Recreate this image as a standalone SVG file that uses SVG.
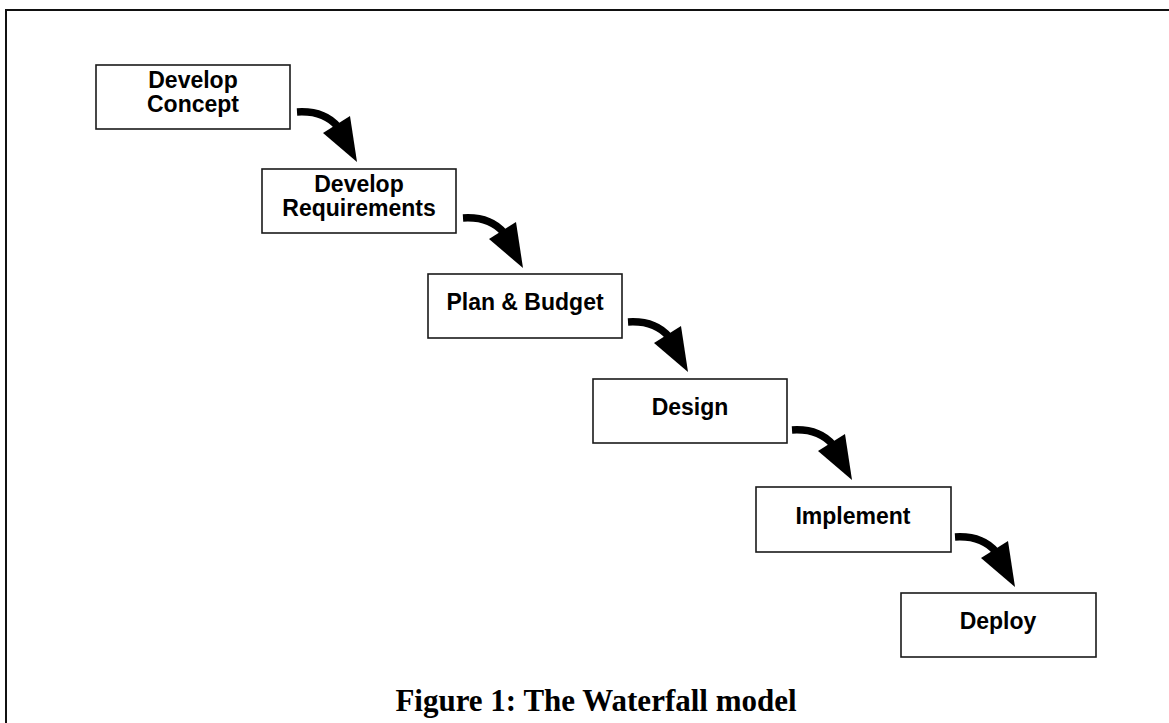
<svg xmlns="http://www.w3.org/2000/svg" xmlns:xlink="http://www.w3.org/1999/xlink" width="1169" height="723" viewBox="0 0 1169 723">
  <style>
    .frame { fill: none; stroke: #111; stroke-width: 2; }
    .box { fill: #fff; stroke: #1a1a1a; stroke-width: 1.6; }
    .label { font-family: "Liberation Sans", Arial, sans-serif; font-weight: bold; font-size: 23px; fill: #000; text-anchor: middle; }
    .caption { font-family: "Liberation Serif", "Times New Roman", serif; font-weight: bold; font-size: 31px; fill: #000; text-anchor: middle; }
    .shaft { fill: none; stroke: #000; stroke-width: 7.5; }
    .head { fill: #000; stroke: none; }
  </style>
  <defs>
    <!-- curved drop arrow; origin at the start of the shaft -->
    <g id="drop-arrow">
      <path class="shaft" d="M0,0 C16,-1 31,3 41,15"/>
      <polygon class="head" points="26,21 53,4 60,50"/>
    </g>
  </defs>

  <rect class="frame" x="6" y="10" width="1200" height="800"/>

  <g id="connectors">
    <use xlink:href="#drop-arrow" x="297" y="112"/>
    <use xlink:href="#drop-arrow" x="463" y="218"/>
    <use xlink:href="#drop-arrow" x="628" y="322"/>
    <use xlink:href="#drop-arrow" x="792" y="430"/>
    <use xlink:href="#drop-arrow" x="955" y="537"/>
  </g>

  <g id="develop-concept">
    <rect class="box" x="96" y="65" width="194" height="64"/>
    <text class="label" x="193" y="88">Develop</text>
    <text class="label" x="193" y="112">Concept</text>
  </g>

  <g id="develop-requirements">
    <rect class="box" x="262" y="169" width="194" height="64"/>
    <text class="label" x="359" y="192">Develop</text>
    <text class="label" x="359" y="216">Requirements</text>
  </g>

  <g id="plan-budget">
    <rect class="box" x="428" y="274" width="194" height="64"/>
    <text class="label" x="525" y="310">Plan &amp; Budget</text>
  </g>

  <g id="design">
    <rect class="box" x="593" y="379" width="194" height="64"/>
    <text class="label" x="690" y="415">Design</text>
  </g>

  <g id="implement">
    <rect class="box" x="756" y="487" width="195" height="65"/>
    <text class="label" x="853" y="524">Implement</text>
  </g>

  <g id="deploy">
    <rect class="box" x="901" y="593" width="195" height="64"/>
    <text class="label" x="998" y="629">Deploy</text>
  </g>

  <text class="caption" x="596" y="711">Figure 1: The Waterfall model</text>
</svg>
